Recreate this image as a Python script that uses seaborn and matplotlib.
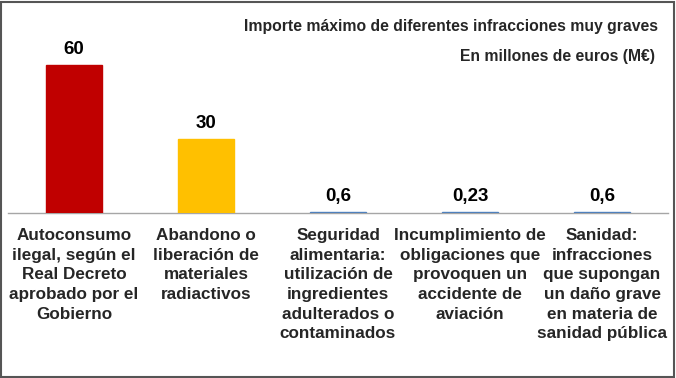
import matplotlib
matplotlib.use("Agg")
import matplotlib.pyplot as plt
import seaborn as sns
from matplotlib.patches import Rectangle
from matplotlib.ticker import FixedLocator

# datos
categorias = [
    "Autoconsumo\nilegal, según el\nReal Decreto\naprobado por el\nGobierno",
    "Abandono o\nliberación de\nmateriales\nradiactivos",
    "Seguridad\nalimentaria:\nutilización de\ningredientes\nadulterados o\ncontaminados",
    "Incumplimiento de\nobligaciones que\nprovoquen un\naccidente de\naviación",
    "Sanidad:\ninfracciones\nque supongan\nun daño grave\nen materia de\nsanidad pública",
]
importes = [60, 30, 0.6, 0.23, 0.6]
etiquetas = ["60", "30", "0,6", "0,23", "0,6"]
colores = ["#C00000", "#FFC000", "#4F81BD", "#4F81BD", "#4F81BD"]

titulo1 = "Importe máximo de diferentes infracciones muy graves"
titulo2 = "En millones de euros (M€)"

sns.set_style("white")
plt.rcParams['font.family'] = ['Liberation Sans', 'DejaVu Sans']

W, H = 676, 378
fig = plt.figure(figsize=(W / 100, H / 100), dpi=100)
ax = fig.add_axes([8 / W, 1 - 213 / H, 660 / W, 185 / H])

sns.barplot(x=list(range(len(importes))), y=importes, hue=list(range(len(importes))),
            palette=colores, legend=False, width=0.42, ax=ax, saturation=1,
            linewidth=0)

# las barras pequeñas casi no se ven: borde del mismo color
for p, c in zip(ax.patches, colores):
    p.set_edgecolor(c)
    p.set_linewidth(1.0)
    p.set_zorder(3)

ax.set_xlim(-0.5, len(importes) - 0.5)
ax.set_ylim(0, 75)

for i, (v, t) in enumerate(zip(importes, etiquetas)):
    ax.annotate(t, (i, v), xytext=(0, 5), textcoords="offset points",
                ha="center", va="bottom", fontsize=13.5, fontweight="bold",
                color="#000000", annotation_clip=False)

for s in ["top", "right", "left"]:
    ax.spines[s].set_visible(False)
ax.spines["bottom"].set_color("#A6A6A6")
ax.spines["bottom"].set_linewidth(1.0)
ax.spines["bottom"].set_zorder(2)
ax.set_yticks([])

ax.set_xticks(range(len(categorias)))
ax.set_xticklabels(categorias, fontsize=12.3, fontweight="bold", linespacing=1.38,
                   va="top", ha="center")
ax.tick_params(axis="x", which="major", length=0, pad=11)
ax.xaxis.set_minor_locator(FixedLocator([0.5, 1.5, 2.5, 3.5]))
ax.tick_params(axis="x", which="minor", length=4, color="#A6A6A6", width=1, direction="out")
ax.set_xlabel("")
ax.set_ylabel("")

fig.text(658 / W, 1 - 26 / H, titulo1, ha="right", va="center",
         fontsize=11.3, fontweight="bold")
fig.text(655 / W, 1 - 56 / H, titulo2, ha="right", va="center",
         fontsize=11.3, fontweight="bold")

# marco
fig.add_artist(Rectangle((1 / W, 1 / H), (W - 3) / W, (H - 3) / H, transform=fig.transFigure,
                         fill=False, edgecolor="#555555", linewidth=1.5))

fig.savefig("out.png", dpi=100)
